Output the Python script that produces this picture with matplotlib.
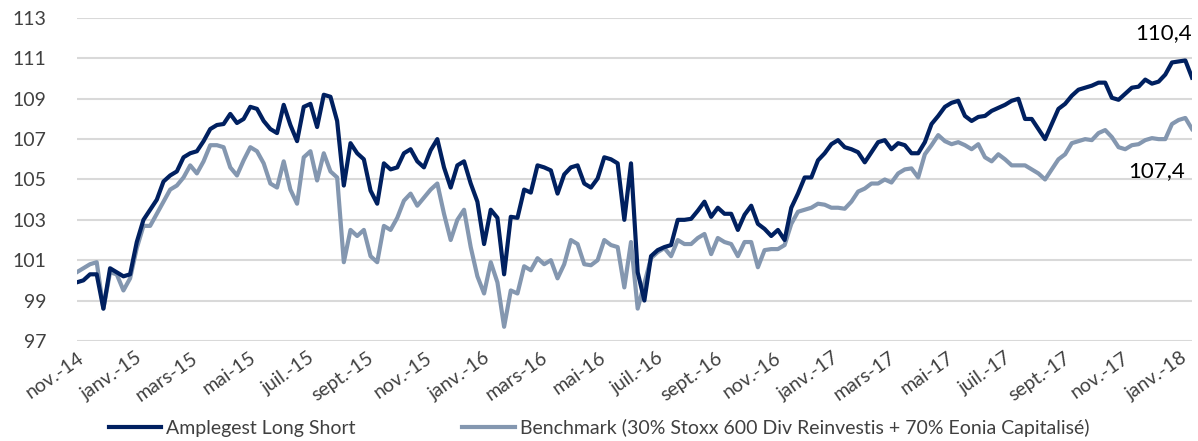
import matplotlib
matplotlib.use('Agg')
import matplotlib.pyplot as plt
import pandas as pd

# ── data (weekly) ─────────────────────────────────────────────────────────
dates = pd.date_range('2014-11-01', periods=168, freq='7D')

amplegest = [
    99.9, 100.0, 100.3, 100.3, 98.6, 100.6, 100.4, 100.2, 100.3, 101.9, 103.0,
    103.5, 104.0, 104.9, 105.2, 105.4, 106.1, 106.3, 106.4, 106.9, 107.5,
    107.7, 107.75, 108.25, 107.8, 108.0, 108.6, 108.5, 107.9, 107.5, 107.3, 108.7,
    107.7, 106.9, 108.6, 108.75, 107.6, 109.2, 109.1, 107.9, 104.7, 106.8,
    106.3, 106.0, 104.45, 103.8, 105.8, 105.5, 105.6, 106.3, 106.5, 105.9, 105.6,
    106.45, 107.0, 105.6, 104.6, 105.7, 105.9, 104.8, 103.9, 101.8, 103.5,
    103.1, 100.3, 103.15, 103.1, 104.5, 104.35, 105.7, 105.6, 105.45, 104.3, 105.25,
    105.6, 105.7, 104.8, 104.6, 105.05, 106.1, 106.0, 105.8, 103.0, 105.8,
    100.4, 99.0, 101.2, 101.5, 101.65, 101.75, 103.0, 103.0, 103.05, 103.45, 103.9,
    103.15, 103.6, 103.3, 103.3, 102.5, 103.25, 103.7, 102.8, 102.55, 102.2,
    102.5, 102.0, 103.6, 104.3, 105.1, 105.1, 105.95, 106.3, 106.75, 106.95, 106.6,
    106.5, 106.35, 105.85, 106.35, 106.85, 106.95, 106.5, 106.8, 106.7, 106.3,
    106.3, 106.85, 107.75, 108.15, 108.6, 108.8, 108.9, 108.15, 107.9, 108.1, 108.15,
    108.4, 108.55, 108.7, 108.9, 109.0, 108.0, 108.0, 107.5, 107.0, 107.75,
    108.5, 108.75, 109.15, 109.45, 109.55, 109.65, 109.8, 109.8, 109.05, 108.95, 109.25,
    109.55, 109.6, 109.95, 109.75, 109.85, 110.2, 110.8, 110.85, 110.9, 110.05,
]

benchmark = [
    100.4, 100.6, 100.8, 100.9, 98.6, 100.4, 100.3, 99.5, 100.1, 101.6, 102.7,
    102.7, 103.3, 103.9, 104.5, 104.7, 105.1, 105.7, 105.3, 105.9, 106.7,
    106.7, 106.6, 105.6, 105.2, 105.95, 106.6, 106.4, 105.8, 104.8, 104.6, 105.9,
    104.5, 103.8, 106.1, 106.4, 104.95, 106.3, 105.4, 105.1, 100.9, 102.5,
    102.2, 102.5, 101.2, 100.9, 102.7, 102.5, 103.1, 103.95, 104.3, 103.7, 104.1,
    104.5, 104.8, 103.3, 102.0, 103.0, 103.5, 101.65, 100.2, 99.35, 100.9,
    99.9, 97.7, 99.5, 99.35, 100.7, 100.5, 101.1, 100.8, 101.0, 100.1, 100.8,
    102.0, 101.8, 100.8, 100.75, 101.0, 102.0, 101.75, 101.65, 99.65, 101.9,
    98.6, 99.85, 101.1, 101.4, 101.6, 101.2, 102.0, 101.8, 101.8, 102.1, 102.3,
    101.3, 102.1, 101.9, 101.8, 101.2, 101.9, 101.9, 100.65, 101.5, 101.55,
    101.55, 101.75, 102.8, 103.4, 103.5, 103.6, 103.8, 103.75, 103.6, 103.6, 103.55,
    103.9, 104.4, 104.55, 104.8, 104.8, 105.0, 104.85, 105.3, 105.5, 105.55,
    105.1, 106.25, 106.7, 107.2, 106.9, 106.75, 106.85, 106.7, 106.5, 106.75, 106.1,
    105.9, 106.25, 106.0, 105.7, 105.7, 105.7, 105.5, 105.3, 105.0, 105.5,
    106.0, 106.25, 106.8, 106.9, 107.0, 106.95, 107.3, 107.45, 107.1, 106.6, 106.5,
    106.7, 106.75, 106.95, 107.05, 107.0, 107.0, 107.75, 107.95, 108.05, 107.5,
]

tick_dates = pd.date_range('2014-11-01', '2018-01-01', freq='2MS')
tick_labels = ['nov.-14', 'janv.-15', 'mars-15', 'mai-15', 'juil.-15', 'sept.-15',
               'nov.-15', 'janv.-16', 'mars-16', 'mai-16', 'juil.-16', 'sept.-16',
               'nov.-16', 'janv.-17', 'mars-17', 'mai-17', 'juil.-17', 'sept.-17',
               'nov.-17', 'janv.-18']
y_ticks = [97, 99, 101, 103, 105, 107, 109, 111, 113]

plt.rcParams['font.family'] = ['Lato', 'DejaVu Sans']

fig = plt.figure(figsize=(11.98, 4.41), dpi=100)
ax = fig.add_axes([0.064, 0.227, 0.931, 0.732])

ax.plot(dates, benchmark, color='#8497B0', linewidth=3.0,
        label='Benchmark (30% Stoxx 600 Div Reinvestis + 70% Eonia Capitalisé)')
ax.plot(dates, amplegest, color='#002060', linewidth=3.0,
        label='Amplegest Long Short')

ax.set_xlim(dates[0], dates[-1])
ax.set_ylim(97, 113)
ax.set_yticks(y_ticks)
ax.set_yticklabels([str(v) for v in y_ticks], fontsize=14, color='#404040')
ax.set_xticks(tick_dates)
ax.set_xticklabels(tick_labels, rotation=35, ha='right', rotation_mode='anchor',
                   fontsize=14, color='#404040')
ax.tick_params(axis='both', length=0)
ax.tick_params(axis='y', pad=22)
ax.tick_params(axis='x', pad=6)
ax.grid(axis='y', color='#D9D9D9', linewidth=1.5)
ax.set_axisbelow(True)
for s in ax.spines.values():
    s.set_visible(False)

ax.text(dates[-1], 112.25, '110,4', ha='right', va='center', fontsize=16, color='black')
ax.annotate('107,4', xy=(dates[-1], 105.4), xytext=(-5, 0), textcoords='offset points',
            ha='right', va='center', fontsize=16, color='black')

handles, labels = ax.get_legend_handles_labels()
fig.legend(handles[::-1], labels[::-1], loc='center', bbox_to_anchor=(0.5, 0.03),
           ncol=2, frameon=False, fontsize=14, handlelength=2.7,
           handletextpad=0.25, columnspacing=5.5, labelcolor='#404040')

plt.savefig('out.png')
